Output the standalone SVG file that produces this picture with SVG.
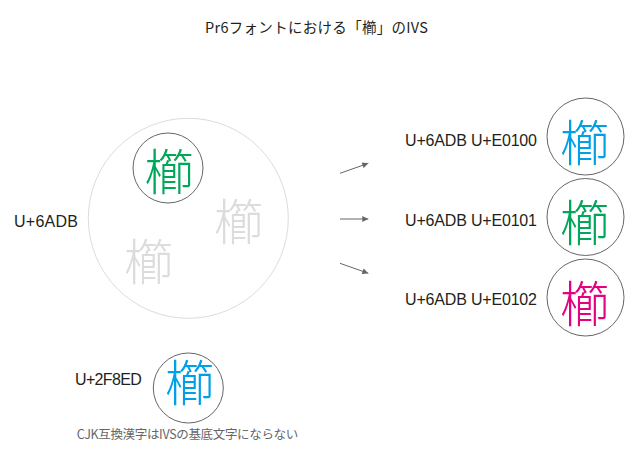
<svg xmlns="http://www.w3.org/2000/svg" width="637" height="458" viewBox="0 0 637 458">
<style>
.lbl{font-family:"Liberation Sans",Arial,sans-serif;font-size:16px;fill:#231f20}
.jp{font-family:"Noto Sans CJK JP","Noto Sans CJK SC",sans-serif}
.k{font-family:"Noto Sans CJK JP","Noto Sans CJK SC",sans-serif;font-size:49px;font-weight:300;text-anchor:middle;dominant-baseline:central}
.ring{fill:none;stroke:#666;stroke-width:1}
.conn{stroke:#666;stroke-width:1;fill:none;marker-end:url(#ah)}
</style>
<defs>
<marker id="ah" viewBox="0 0 10 10" refX="10" refY="5" markerWidth="8" markerHeight="6" markerUnits="userSpaceOnUse" orient="auto">
<path d="M0,0 L10,5 L0,10 z" fill="#666"/>
</marker>
</defs>
<rect width="637" height="458" fill="#fff"/>
<text class="jp" x="205" y="33" font-size="14.5" fill="#231f20" textLength="223">Pr6フォントにおける「櫛」のIVS</text>

<g id="base">
<circle cx="188.3" cy="218.3" r="100" fill="none" stroke="#dcdcdc" stroke-width="1"/>
<text class="lbl" x="14" y="226.5" textLength="64">U+6ADB</text>
<text class="k" x="238.5" y="218.5" fill="#dcdcdc">櫛</text>
<text class="k" x="148.5" y="258.5" fill="#dcdcdc">櫛</text>
</g>
<g id="base-glyph">
<circle class="ring" cx="168" cy="168" r="35"/>
<text class="k" x="169" y="168.5" fill="#00a65a">櫛</text>
</g>

<g id="connectors">
<line class="conn" x1="340" y1="173.3" x2="368.3" y2="163.3"/>
<line class="conn" x1="340" y1="219" x2="368.3" y2="219"/>
<line class="conn" x1="340" y1="263.3" x2="368.3" y2="273.3"/>
</g>

<g id="ivs0">
<text class="lbl" x="405" y="145.5" textLength="132">U+6ADB U+E0100</text>
<circle class="ring" cx="585.5" cy="136.5" r="38.5"/>
<text class="k" x="584.5" y="139" fill="#00a0e9">櫛</text>
</g>
<g id="ivs1">
<text class="lbl" x="405" y="225.5" textLength="132">U+6ADB U+E0101</text>
<circle class="ring" cx="585.5" cy="217" r="38.5"/>
<text class="k" x="584.5" y="219.5" fill="#00a65a">櫛</text>
</g>
<g id="ivs2">
<text class="lbl" x="405" y="305" textLength="132">U+6ADB U+E0102</text>
<circle class="ring" cx="585.5" cy="297.5" r="38.5"/>
<text class="k" x="584.5" y="300" fill="#e4007f">櫛</text>
</g>

<g id="compat">
<text class="lbl" x="75" y="385" textLength="66.7">U+2F8ED</text>
<circle class="ring" cx="188.3" cy="388" r="35"/>
<text class="k" x="189.5" y="379.5" fill="#00a0e9">櫛</text>
<text class="jp" x="76.7" y="438.5" font-size="12.5" fill="#666" textLength="221.6">CJK互換漢字はIVSの基底文字にならない</text>
</g>
</svg>
